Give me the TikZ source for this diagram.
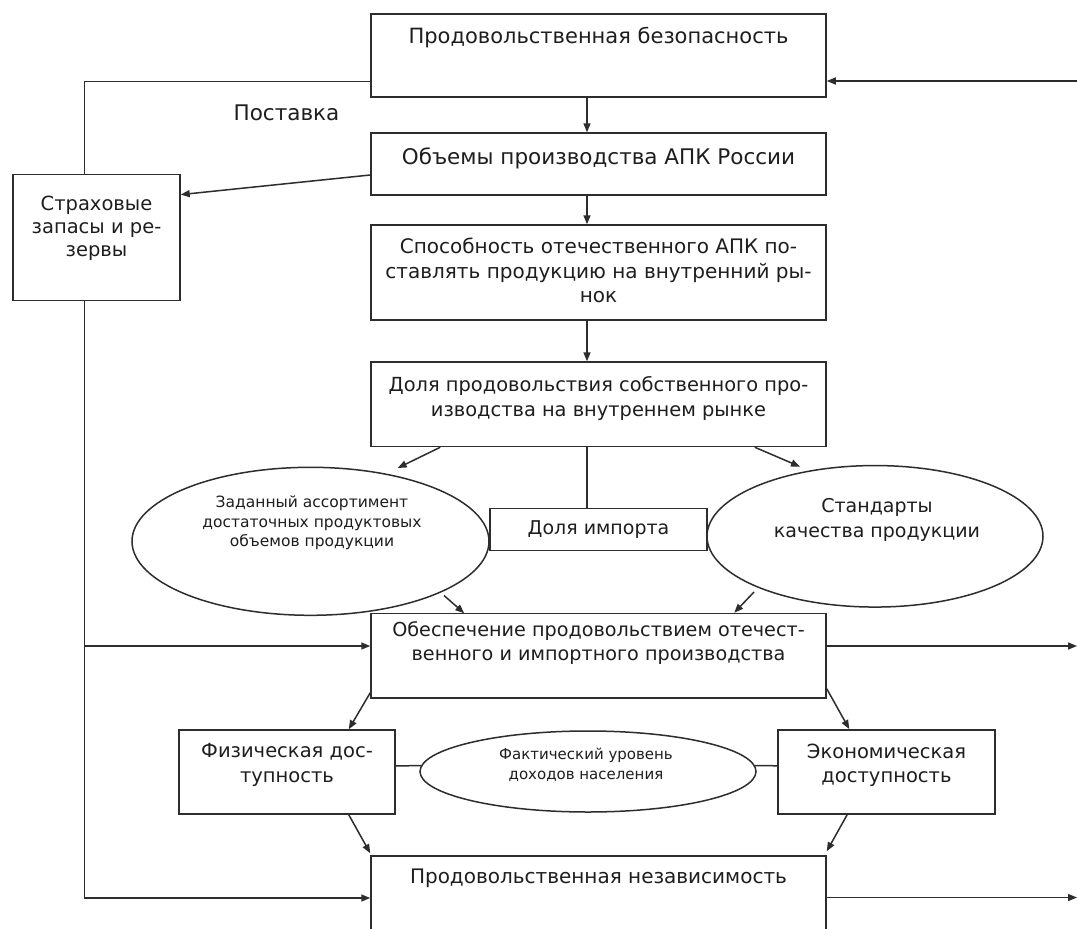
\documentclass[tikz,border=0pt]{standalone}
\usepackage{fontspec}
\setmainfont{DejaVu Sans}
\usetikzlibrary{arrows.meta,shapes.geometric,calc}
\definecolor{ink}{RGB}{30,30,30}
\definecolor{edge}{RGB}{45,45,45}
\begin{document}
\begin{tikzpicture}[x=1pt,y=-1pt,
  box/.style={draw=edge, line width=1.5pt, rectangle, inner sep=0pt, minimum width=455pt},
  oval/.style={draw=edge, line width=1.5pt, ellipse, inner sep=0pt},
  txt/.style={anchor=north, inner sep=0pt, align=center, text=ink, font=\fontsize{20}{24.5}\selectfont},
  bigtxt/.style={txt, font=\fontsize{21}{24.5}\selectfont},
  smalltxt/.style={anchor=center, inner sep=0pt, align=center, text=ink, font=\fontsize{15.5}{19.5}\selectfont},
  ln/.style={draw=edge, line width=1.5pt},
  arr/.style={ln, -{Triangle[length=9pt,width=7pt]}}]
\useasboundingbox (0,0) rectangle (1077,929);
\clip (0,0) rectangle (1077,929);
\fill[white] (0,0) rectangle (1077,929);

% main column boxes
\node[box, minimum height=83pt] (b1) at (598.5,55.5) {};
\node[bigtxt] (t1) at (598.5,27) {Продовольственная безопасность};
\node[box, minimum height=62pt] (b2) at (598.5,164) {};
\node[bigtxt, font=\fontsize{21.5}{24.5}\selectfont] (t2) at (598.5,148) {Объемы производства АПК России};
\node[box, minimum height=95pt] (b3) at (598.5,272.5) {};
\node[txt] (t3) at (598.5,238) {Способность отечественного АПК по-\\ставлять продукцию на внутренний ры-\\нок};
\node[box, minimum height=84.5pt] (b4) at (598.5,404.25) {};
\node[txt, font=\fontsize{19.4}{24.2}\selectfont] (t4) at (598.5,376.6) {Доля продовольствия собственного про-\\изводства на внутреннем рынке};
\node[box, minimum width=217pt, minimum height=42pt, text=ink, font=\fontsize{19}{23}\selectfont] (imp) at (598.5,529.5) {Доля импорта};
\node[box, minimum height=84.5pt] (b5) at (598.5,655.75) {};
\node[txt, font=\fontsize{19.2}{24.2}\selectfont] (t5) at (598.5,621.5) {Обеспечение продовольствием отечест-\\венного и импортного производства};
\node[box, minimum height=104pt] (b6) at (598.5,908) {};
\node[txt] (t6) at (598.5,868.6) {Продовольственная независимость};

% side boxes
\node[box, minimum width=167pt, minimum height=126pt] (strah) at (96.5,237.6) {};
\node[txt, font=\fontsize{19.5}{23}\selectfont] (ts) at (96.5,196) {Страховые\\запасы и ре-\\зервы};
\node[box, minimum width=216pt, minimum height=84pt] (phys) at (287,772) {};
\node[txt, font=\fontsize{19.5}{25}\selectfont] (tp) at (287,743) {Физическая дос-\\тупность};
\node[box, minimum width=217pt, minimum height=84pt] (econ) at (886.5,771.8) {};
\node[txt, font=\fontsize{19.5}{24}\selectfont] (te) at (886.5,744) {Экономическая\\доступность};

% ellipses
\node[oval, minimum width=357pt, minimum height=148pt] (e1) at (310.5,541.3) {};
\node[smalltxt] (te1) at (312,523) {Заданный ассортимент\\достаточных продуктовых\\объемов продукции};
\node[oval, minimum width=336pt, minimum height=141.5pt] (e2) at (875,536.3) {};
\node[smalltxt, font=\fontsize{19}{24.6}\selectfont] (te2) at (877,520) {Стандарты\\качества продукции};
\node[oval, minimum width=336pt, minimum height=81pt] (e3) at (588,771.5) {};
\node[smalltxt, font=\fontsize{15}{20}\selectfont] (te3) at (586,765) {Фактический уровень\\доходов населения};

% label
\node[inner sep=0pt, text=ink, font=\fontsize{21.5}{24}\selectfont] (post) at (286.5,113) {Поставка};

% spine
\coordinate (sp) at (587,0);
\draw[arr] (b1.south -| sp) -- (b2.north -| sp);
\draw[arr] (b2.south -| sp) -- (b3.north -| sp);
\draw[arr] (b3.south -| sp) -- (b4.north -| sp);
\draw[ln] (b4.south -| sp) -- (imp.north -| sp);

% left loop
\coordinate (lc) at (84.4,81.6);
\coordinate (lm) at (84.4,646);
\coordinate (lb) at (84.4,898);
\draw[ln] ($(b1.west)+(0,26.1)$) -- (lc) -- (lc |- strah.north);
\draw[arr] (lc |- strah.south) -- (lb) -- (lb -| b6.west);
\draw[arr] (lm) -- (lm -| b5.west);
\draw[arr] ($(b2.west)+(0,11)$) -- ($(strah.east)+(0,-43)$);

% right side
\coordinate (rt) at (1077,81);
\coordinate (rm) at (1077,646);
\coordinate (rb) at (1077,897.5);
\draw[arr] (rt) -- (rt -| b1.east);
\draw[arr] (rm -| b5.east) -- (rm);
\draw[arr] (rb -| b6.east) -- (rb);

% diagonal arrows
\draw[arr] ($(b4.south west)+(70,0)$) -- ($(e1.center)+(87.2,-73.3)$);
\draw[arr] ($(b4.south east)+(-72,0)$) -- ($(e2.center)+(-75,-69.7)$);
\draw[arr] ($(e1.center)+(133.5,54.2)$) -- ($(b5.north west)+(94,0.5)$);
\draw[arr] ($(e2.center)+(-121,55.7)$) -- ($(b5.north east)+(-92.5,0)$);
\draw[arr] ($(b5.south west)+(0,-6)$) -- ($(phys.north east)+(-47,0)$);
\draw[arr] ($(b5.south east)+(0,-10)$) -- ($(econ.north west)+(72,0)$);
\draw[arr] ($(phys.south east)+(-47,0)$) -- ($(b6.north west)+(0,-2)$);
\draw[arr] ($(econ.south west)+(70,0)$) -- ($(b6.north east)+(0,-4)$);

% ellipse ties
\draw[ln] ($(phys.east)+(0,-6)$) -- ($(e3.west)+(1.8,-6)$);
\draw[ln] ($(e3.east)+(-1.8,-6)$) -- ($(econ.west)+(0,-6)$);
\end{tikzpicture}
\end{document}
